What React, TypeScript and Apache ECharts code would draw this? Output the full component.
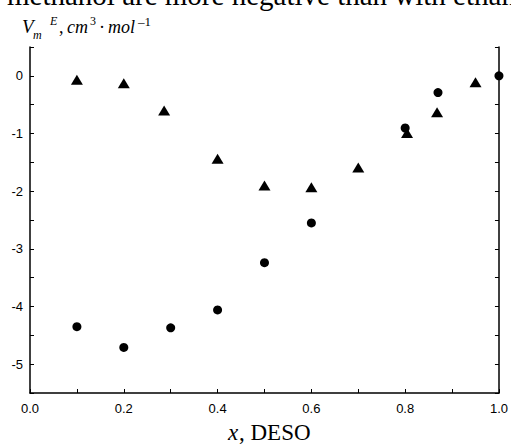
import React, { useEffect, useRef } from "react";
import * as echarts from "echarts";

// Data
const circleX = [0.1, 0.2, 0.3, 0.4, 0.5, 0.6, 0.8, 0.87, 1.0];
const circleY = [-4.35, -4.71, -4.37, -4.06, -3.24, -2.55, -0.905, -0.29, 0];
const triangleX = [0.1, 0.2, 0.286, 0.4, 0.5, 0.6, 0.7, 0.804, 0.868, 0.95];
const triangleY = [-0.07, -0.13, -0.6, -1.44, -1.9, -1.93, -1.59, -0.99, -0.63, -0.11];
const xLabelValues = ["0.0", "0.2", "0.4", "0.6", "0.8", "1.0"];
const yLabelValues = ["0", "-1", "-2", "-3", "-4", "-5"];

const SERIF = "'Liberation Serif', 'Times New Roman', serif";
const SANS = "'Liberation Sans', Arial, sans-serif";

function txt(text: string, x: number, y: number, size: number, italic = false) {
  return {
    type: "text",
    x,
    y,
    style: {
      text,
      fill: "#000",
      fontFamily: SERIF,
      fontSize: size,
      fontStyle: italic ? "italic" : "normal",
      align: "left",
      verticalAlign: "middle",
    },
  };
}

export default function App() {
  const ref = useRef<HTMLDivElement>(null);
  useEffect(() => {
    if (!ref.current) return;
    const chart = echarts.init(ref.current, null, { renderer: "svg" });
    const axisLine = { show: true, onZero: false, lineStyle: { color: "#000", width: 1.5 } };
    const axisTick = { show: true, inside: true, length: 4, lineStyle: { color: "#000", width: 1 } };
    chart.setOption({
      animation: false,
      backgroundColor: "#fff",
      grid: { left: 30, top: 47, width: 469, height: 346, containLabel: false },
      xAxis: {
        type: "value",
        min: 0,
        max: 1,
        interval: 0.1,
        axisLine,
        axisTick,
        splitLine: { show: false },
        axisLabel: {
          color: "#000",
          fontFamily: SANS,
          fontSize: 13,
          margin: 9,
          showMinLabel: true,
          showMaxLabel: true,
          formatter: (v: number) => {
            const k = Math.round(v * 10);
            return k % 2 === 0 ? xLabelValues[k / 2] : "";
          },
        },
      },
      yAxis: [
        {
          type: "value",
          position: "left",
          min: -5.5,
          max: 0.5,
          interval: 0.5,
          axisLine,
          axisTick,
          splitLine: { show: false },
          axisLabel: {
            color: "#000",
            fontFamily: SANS,
            fontSize: 13,
            margin: 7,
            formatter: (v: number) => {
              const r = Math.round(v * 2);
              if (r % 2 !== 0) return "";
              const idx = -r / 2;
              return yLabelValues[idx] ?? "";
            },
          },
        },
        {
          type: "value",
          position: "right",
          min: -5.5,
          max: 0.5,
          interval: 0.5,
          axisLine,
          axisTick,
          splitLine: { show: false },
          axisLabel: { show: false },
        },
      ],
      series: [
        {
          type: "scatter",
          name: "circles",
          symbol: "circle",
          symbolSize: 9,
          itemStyle: { color: "#000", opacity: 1 },
          data: circleX.map((x, i) => [x, circleY[i]]),
        },
        {
          type: "scatter",
          name: "triangles",
          symbol: "triangle",
          symbolSize: [12, 10],
          itemStyle: { color: "#000", opacity: 1 },
          data: triangleX.map((x, i) => [x, triangleY[i]]),
        },
      ],
      graphic: [
        txt("methanol are more negative than with ethanol", 7, -5, 29),
        txt("V", 22, 26, 19, true),
        txt("m", 33, 35, 12, true),
        txt("E", 50, 21, 12, true),
        txt(",", 59, 27, 18),
        txt("cm", 67, 27, 18, true),
        txt("3", 90, 21, 12),
        txt("·", 99, 27, 18),
        txt("mol", 108, 27, 18, true),
        txt("–1", 138, 21, 13),
        txt("x", 228, 432, 23, true),
        txt(", DESO", 239, 432, 23),
      ],
    });
    return () => chart.dispose();
  }, []);
  return (
    <div
      ref={ref}
      style={{ position: "fixed", left: 0, top: 0, width: 511, height: 446, background: "#fff" }}
    />
  );
}
